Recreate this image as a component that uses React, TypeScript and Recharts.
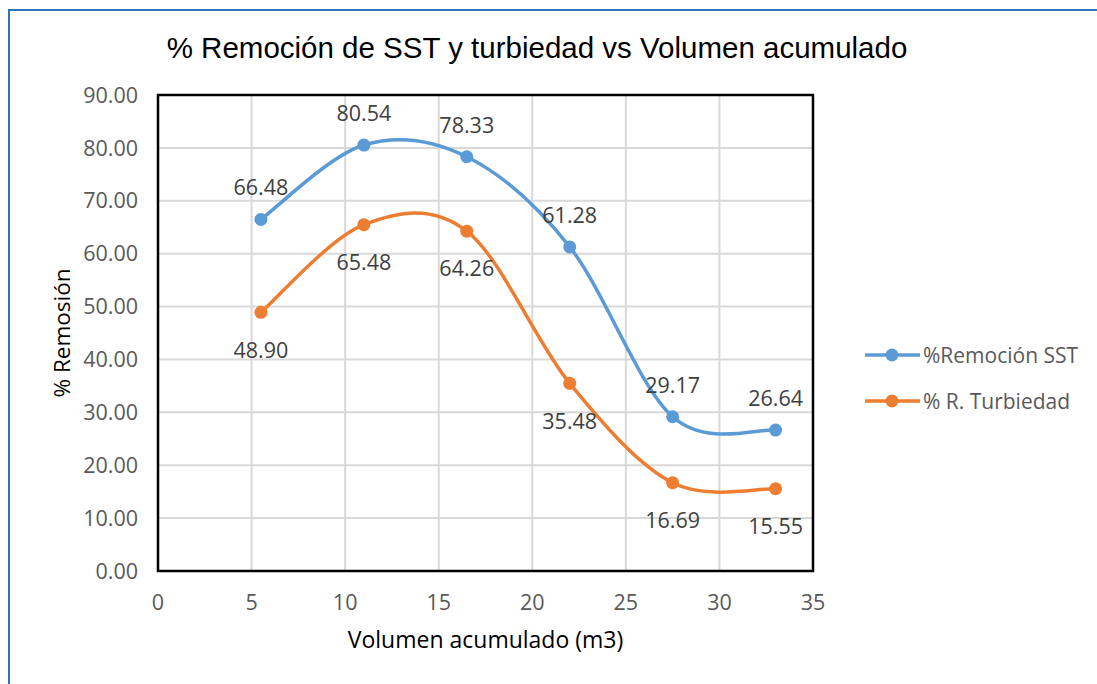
import React from 'react'
import {
  LineChart,
  Line,
  XAxis,
  YAxis,
  CartesianGrid,
  Legend,
  LabelList,
  ReferenceArea,
} from 'recharts'

const volumes = [5.5, 11, 16.5, 22, 27.5, 33]
const sstRemoval = [66.48, 80.54, 78.33, 61.28, 29.17, 26.64]
const turbidityRemoval = [48.9, 65.48, 64.26, 35.48, 16.69, 15.55]
const xTicks = [0, 5, 10, 15, 20, 25, 30, 35]
const yTicks = [0, 10, 20, 30, 40, 50, 60, 70, 80, 90]
const seriesNames = ['%Remoción SST', '% R. Turbiedad']

const SST_COLOR = '#5b9bd5'
const TURB_COLOR = '#ed7d31'
const FONT = '"Open Sans", sans-serif'

const data = volumes.map((v, i) => ({
  vol: v,
  sst: sstRemoval[i],
  turb: turbidityRemoval[i],
}))

// Excel-style smoothed line (Catmull-Rom through the points)
function excelSmooth(context: any) {
  let pts: number[][] = []
  return {
    areaStart() {},
    areaEnd() {},
    lineStart() {
      pts = []
    },
    point(x: number, y: number) {
      pts.push([+x, +y])
    },
    lineEnd() {
      if (!pts.length) return
      context.moveTo(pts[0][0], pts[0][1])
      for (let i = 0; i < pts.length - 1; i++) {
        const p0 = pts[i - 1] || pts[i]
        const p1 = pts[i]
        const p2 = pts[i + 1]
        const p3 = pts[i + 2] || p2
        context.bezierCurveTo(
          p1[0] + (p2[0] - p0[0]) / 6,
          p1[1] + (p2[1] - p0[1]) / 6,
          p2[0] - (p3[0] - p1[0]) / 6,
          p2[1] - (p3[1] - p1[1]) / 6,
          p2[0],
          p2[1]
        )
      }
    },
  }
}

const LegendContent = ({ payload }: any) => {
  const items = [...(payload || [])].sort(
    (a: any, b: any) => seriesNames.indexOf(a.value) - seriesNames.indexOf(b.value)
  )
  return (
    <div style={{ fontFamily: FONT, fontSize: 21, color: '#595959' }}>
      {items.map((entry: any) => (
        <div key={entry.value} style={{ display: 'flex', alignItems: 'center', height: 46 }}>
          <svg width={58} height={16}>
            <line x1={0} y1={8} x2={55} y2={8} stroke={entry.color} strokeWidth={3.5} />
            <circle cx={27} cy={8} r={6.5} fill={entry.color} />
          </svg>
          <span>{entry.value}</span>
        </div>
      ))}
    </div>
  )
}

export default function App() {
  return (
    <div
      style={{
        position: 'fixed',
        left: 0,
        top: 0,
        width: 1097,
        height: 684,
        background: '#fff',
        overflow: 'hidden',
      }}
    >
      <div
        style={{
          position: 'absolute',
          left: 8,
          top: 9,
          width: 1200,
          height: 800,
          border: '2px solid #2e75b6',
          boxSizing: 'border-box',
        }}
      />
      <div
        style={{
          position: 'absolute',
          left: 0,
          width: 1074,
          top: 31,
          textAlign: 'center',
          fontFamily: '"Liberation Sans", Arial, sans-serif',
          fontSize: 29.5,
          color: '#000',
        }}
      >
        % Remoción de SST y turbiedad vs Volumen acumulado
      </div>
      <div style={{ position: 'absolute', left: 0, top: 0 }}>
        <LineChart
          width={1097}
          height={684}
          data={data}
          margin={{ top: 95, right: 284, left: 50, bottom: 33 }}
        >
          <CartesianGrid stroke="#d9d9d9" strokeWidth={2} />
          <XAxis
            dataKey="vol"
            type="number"
            domain={[0, 35]}
            ticks={xTicks}
            axisLine={false}
            tickLine={false}
            tickSize={0}
            tickMargin={24}
            height={80}
            tick={{ fontSize: 21.5, fill: '#595959', fontFamily: FONT }}
            label={{
              value: 'Volumen acumulado (m3)',
              position: 'insideBottom',
              offset: 3,
              style: { fontSize: 23, fill: '#000', fontFamily: FONT },
            }}
          />
          <YAxis
            type="number"
            domain={[0, 90]}
            ticks={yTicks}
            axisLine={false}
            tickLine={false}
            tickSize={0}
            tickMargin={20}
            width={108}
            tickFormatter={(v: number) => v.toFixed(2)}
            tick={{ fontSize: 21.5, fill: '#595959', fontFamily: FONT }}
            label={{
              value: '% Remosión',
              angle: -90,
              position: 'center',
              dx: -42,
              style: { fontSize: 22.5, fill: '#000', fontFamily: FONT, textAnchor: 'middle' },
            }}
          />
          <Legend
            layout="vertical"
            align="center"
            verticalAlign="middle"
            wrapperStyle={{ left: 865, top: 332, width: 230 }}
            content={<LegendContent />}
          />
          <Line
            dataKey="sst"
            name={seriesNames[0]}
            type={excelSmooth as any}
            stroke={SST_COLOR}
            strokeWidth={3.5}
            dot={{ r: 6.5, fill: SST_COLOR, stroke: SST_COLOR, strokeWidth: 0 }}
            activeDot={false}
            isAnimationActive={false}
          >
            <LabelList
              dataKey="sst"
              position="top"
              offset={24}
              formatter={(v: any) => Number(v).toFixed(2)}
              style={{ fontSize: 21.5, fill: '#404040', fontFamily: FONT }}
            />
          </Line>
          <Line
            dataKey="turb"
            name={seriesNames[1]}
            type={excelSmooth as any}
            stroke={TURB_COLOR}
            strokeWidth={3.5}
            dot={{ r: 6.5, fill: TURB_COLOR, stroke: TURB_COLOR, strokeWidth: 0 }}
            activeDot={false}
            isAnimationActive={false}
          >
            <LabelList
              dataKey="turb"
              position="bottom"
              offset={30}
              formatter={(v: any) => Number(v).toFixed(2)}
              style={{ fontSize: 21.5, fill: '#404040', fontFamily: FONT }}
            />
          </Line>
          <ReferenceArea
            x1={0}
            x2={35}
            y1={0}
            y2={90}
            fill="none"
            stroke="#000"
            strokeWidth={2.5}
            ifOverflow="visible"
          />
        </LineChart>
      </div>
    </div>
  )
}
